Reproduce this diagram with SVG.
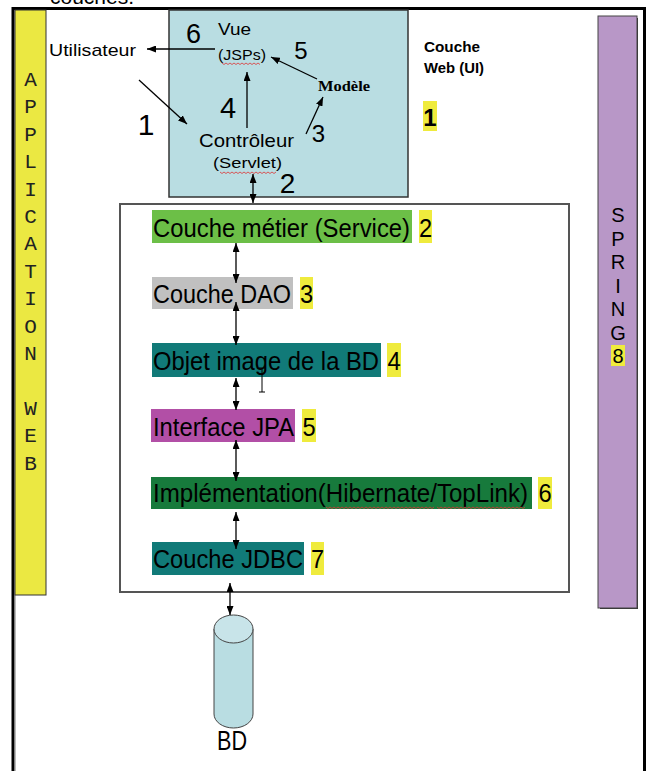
<svg xmlns="http://www.w3.org/2000/svg" width="649" height="771" viewBox="0 0 649 771">
<defs>
<marker id="ah" markerUnits="userSpaceOnUse" markerWidth="9" markerHeight="7" refX="9" refY="3.5" orient="auto-start-reverse"><path d="M0,0 L9,3.5 L0,7 z" fill="#000"/></marker>
<style>
.sans{font-family:"Liberation Sans",Arial,sans-serif;fill:#000}
.serif{font-family:"Liberation Serif","Times New Roman",serif;fill:#000}
.mono{font-family:"Liberation Mono","Courier New",monospace;fill:#222}
.ln{stroke:#000;stroke-width:1.3;fill:none}
.bar{font-family:"Liberation Sans",Arial,sans-serif;font-size:23.7px;fill:#000}
.hl{fill:#efeb3d}
.wavy{stroke:#d33;stroke-width:0.8;fill:none}
</style>
</defs>
<rect width="649" height="771" fill="#fff"/>
<text class="sans" x="50" y="4" font-size="21">couches.</text>
<g id="frame">
<path d="M13,771 V8.5 H644.5 V771" fill="none" stroke="#000" stroke-width="3"/>
<line x1="15.5" y1="10" x2="15.5" y2="771" stroke="#bbb" stroke-width="1"/>
</g>
<g id="application-web">
<rect x="15" y="10" width="31" height="585" fill="#ebe842" stroke="#333" stroke-width="1"/>
<g class="mono" font-size="21" text-anchor="middle">
<text x="30.5" y="86">A</text><text x="30.5" y="113">P</text><text x="30.5" y="141">P</text><text x="30.5" y="168">L</text><text x="30.5" y="196">I</text><text x="30.5" y="223">C</text><text x="30.5" y="250">A</text><text x="30.5" y="278">T</text><text x="30.5" y="305">I</text><text x="30.5" y="333">O</text><text x="30.5" y="360">N</text><text x="30.5" y="415">W</text><text x="30.5" y="442">E</text><text x="30.5" y="470">B</text>
</g>
</g>
<g id="spring">
<rect x="600" y="18" width="38" height="591" fill="#333"/>
<rect x="598" y="16" width="39" height="592" fill="#b897c7" stroke="#444" stroke-width="1"/>
<rect class="hl" x="611" y="345" width="14" height="21"/>
<g class="sans" font-size="20" text-anchor="middle">
<text x="618" y="222">S</text><text x="618" y="245.5">P</text><text x="618" y="269">R</text><text x="618" y="292.5">I</text><text x="618" y="316">N</text><text x="618" y="339.5">G</text><text x="618" y="363">8</text>
</g>
</g>
<g id="couche-web">
<rect x="169" y="10" width="239" height="187" fill="#b9dde2" stroke="#333" stroke-width="1.5"/>
<text class="sans" x="218" y="35" font-size="17" textLength="33" lengthAdjust="spacingAndGlyphs">Vue</text>
<text class="sans" x="218" y="60" font-size="15" textLength="48" lengthAdjust="spacingAndGlyphs">(JSPs)</text>
<path class="wavy" d="M222,63 l2,1.5 l2,-1.5 l2,1.5 l2,-1.5 l2,1.5 l2,-1.5 l2,1.5 l2,-1.5 l2,1.5 l2,-1.5 l2,1.5 l2,-1.5 l2,1.5 l2,-1.5 l2,1.5 l2,-1.5 l2,1.5 l2,-1.5 l2,1.5"/>
<text class="serif" x="318" y="91" font-size="15.5" font-weight="bold" textLength="52" lengthAdjust="spacingAndGlyphs">Modèle</text>
<text class="sans" x="199" y="147" font-size="18.5" textLength="95" lengthAdjust="spacingAndGlyphs">Contrôleur</text>
<text class="sans" x="213" y="168" font-size="15.5" textLength="69" lengthAdjust="spacingAndGlyphs">(Servlet)</text>
<path class="wavy" d="M220,172 l2,1.5 l2,-1.5 l2,1.5 l2,-1.5 l2,1.5 l2,-1.5 l2,1.5 l2,-1.5 l2,1.5 l2,-1.5 l2,1.5 l2,-1.5 l2,1.5 l2,-1.5 l2,1.5 l2,-1.5 l2,1.5 l2,-1.5 l2,1.5 l2,-1.5 l2,1.5 l2,-1.5 l2,1.5 l2,-1.5 l2,1.5 l2,-1.5 l2,1.5 l2,-1.5"/>
<g class="sans" text-anchor="middle">
<text x="193.5" y="43" font-size="27">6</text>
<text x="301" y="59" font-size="24">5</text>
<text x="228" y="118" font-size="29">4</text>
<text x="318.5" y="142" font-size="24">3</text>
<text x="287.5" y="193" font-size="28">2</text>
</g>
</g>
<g id="utilisateur">
<text class="sans" x="49" y="56" font-size="17" textLength="87" lengthAdjust="spacingAndGlyphs">Utilisateur</text>
<text class="sans" x="146" y="135" font-size="30" text-anchor="middle">1</text>
</g>
<g id="label-web">
<text class="sans" x="424" y="52" font-size="15" font-weight="bold" textLength="56" lengthAdjust="spacingAndGlyphs">Couche</text>
<text class="sans" x="424" y="73" font-size="15" font-weight="bold" textLength="60" lengthAdjust="spacingAndGlyphs">Web (UI)</text>
<rect class="hl" x="423" y="101" width="14" height="30"/>
<text class="sans" x="430" y="126" font-size="24" font-weight="bold" text-anchor="middle">1</text>
</g>
<g id="couche-metier-box">
<rect x="120" y="204" width="449" height="388" fill="#fff" stroke="#555" stroke-width="2"/>
</g>
<g id="service">
<rect x="152" y="210" width="260" height="33" fill="#6cbf47"/>
<text class="bar" transform="translate(153,237) scale(1,1.12)" textLength="257" lengthAdjust="spacingAndGlyphs">Couche métier (Service)</text>
<rect class="hl" x="419" y="210" width="13" height="33"/>
<text class="bar" transform="translate(425.5,237) scale(1,1.12)" text-anchor="middle">2</text>
</g>
<g id="dao">
<rect x="152" y="277" width="141" height="32" fill="#c0c0c0"/>
<text class="bar" transform="translate(153,303) scale(1,1.12)" textLength="138" lengthAdjust="spacingAndGlyphs">Couche DAO</text>
<rect class="hl" x="300" y="277" width="13" height="32"/>
<text class="bar" transform="translate(306.5,303) scale(1,1.12)" text-anchor="middle">3</text>
</g>
<g id="objet">
<rect x="152" y="343" width="229" height="34" fill="#117a78"/>
<text class="bar" transform="translate(153,370) scale(1,1.12)" textLength="226" lengthAdjust="spacingAndGlyphs">Objet image de la BD</text>
<rect class="hl" x="387" y="343" width="14" height="34"/>
<text class="bar" transform="translate(394,370) scale(1,1.12)" text-anchor="middle">4</text>
</g>
<g id="jpa">
<rect x="151" y="409" width="144" height="33" fill="#b24fa6"/>
<text class="bar" transform="translate(153,436) scale(1,1.12)" textLength="141" lengthAdjust="spacingAndGlyphs">Interface JPA</text>
<rect class="hl" x="302" y="409" width="14" height="33"/>
<text class="bar" transform="translate(309,436) scale(1,1.12)" text-anchor="middle">5</text>
</g>
<g id="implementation">
<rect x="151" y="477" width="381" height="32" fill="#177a3c"/>
<text class="bar" transform="translate(153,502) scale(1,1.12)" textLength="375" lengthAdjust="spacingAndGlyphs">Implémentation(Hibernate/TopLink)</text>
<path class="wavy" d="M326,507 l2,1.5 l2,-1.5 l2,1.5 l2,-1.5 l2,1.5 l2,-1.5 l2,1.5 l2,-1.5 l2,1.5 l2,-1.5 l2,1.5 l2,-1.5 l2,1.5 l2,-1.5 l2,1.5 l2,-1.5 l2,1.5 l2,-1.5 l2,1.5 l2,-1.5 l2,1.5 l2,-1.5 l2,1.5 l2,-1.5 l2,1.5 l2,-1.5 l2,1.5 l2,-1.5 l2,1.5 l2,-1.5 l2,1.5 l2,-1.5 l2,1.5 l2,-1.5 l2,1.5 l2,-1.5 l2,1.5 l2,-1.5 l2,1.5 l2,-1.5 l2,1.5 l2,-1.5 l2,1.5 l2,-1.5 l2,1.5 l2,-1.5 l2,1.5 l2,-1.5 l2,1.5 l2,-1.5 l2,1.5 l2,-1.5 l2,1.5 l2,-1.5 M437,507 l2,1.5 l2,-1.5 l2,1.5 l2,-1.5 l2,1.5 l2,-1.5 l2,1.5 l2,-1.5 l2,1.5 l2,-1.5 l2,1.5 l2,-1.5 l2,1.5 l2,-1.5 l2,1.5 l2,-1.5 l2,1.5 l2,-1.5 l2,1.5 l2,-1.5 l2,1.5 l2,-1.5 l2,1.5 l2,-1.5 l2,1.5 l2,-1.5 l2,1.5 l2,-1.5 l2,1.5 l2,-1.5 l2,1.5 l2,-1.5 l2,1.5 l2,-1.5 l2,1.5 l2,-1.5 l2,1.5 l2,-1.5 l2,1.5 l2,-1.5 l2,1.5 l2,-1.5 l2,1.5 l2,-1.5"/>
<rect class="hl" x="538" y="477" width="14" height="32"/>
<text class="bar" transform="translate(545,502) scale(1,1.12)" text-anchor="middle">6</text>
</g>
<g id="jdbc">
<rect x="152" y="542" width="152" height="33" fill="#117a78"/>
<text class="bar" transform="translate(153,568) scale(1,1.12)" textLength="150" lengthAdjust="spacingAndGlyphs">Couche JDBC</text>
<rect class="hl" x="311" y="542" width="13" height="33"/>
<text class="bar" transform="translate(317.5,568) scale(1,1.12)" text-anchor="middle">7</text>
</g>
<g id="bd">
<path d="M214,629 V714 A19.5,14 0 0 0 253,714 V629 z" fill="#b9dde2" stroke="#444" stroke-width="1"/>
<ellipse cx="233.5" cy="629" rx="19.5" ry="14" fill="#c8e4e9" stroke="#444" stroke-width="1"/>
<text class="sans" x="217" y="750" font-size="28" textLength="30" lengthAdjust="spacingAndGlyphs">BD</text>
</g>
<g id="cursor">
<path d="M259,368 h6 M262,368 V392 M259,392 h6" stroke="#000" stroke-width="1" fill="none"/>
</g>
<g id="connectors">
<line class="ln" x1="215" y1="49" x2="147" y2="49" marker-end="url(#ah)"/>
<line class="ln" x1="139" y1="80" x2="187" y2="124" marker-end="url(#ah)"/>
<line class="ln" x1="247" y1="128" x2="247" y2="72" marker-end="url(#ah)"/>
<line class="ln" x1="306" y1="134" x2="323" y2="97" marker-end="url(#ah)"/>
<line class="ln" x1="317" y1="79" x2="271" y2="57" marker-end="url(#ah)"/>
<line class="ln" x1="253" y1="174" x2="253" y2="203" marker-start="url(#ah)" marker-end="url(#ah)"/>
<line class="ln" x1="236" y1="243" x2="236" y2="283" marker-start="url(#ah)" marker-end="url(#ah)"/>
<line class="ln" x1="236" y1="302" x2="236" y2="345" marker-start="url(#ah)" marker-end="url(#ah)"/>
<line class="ln" x1="236" y1="378" x2="236" y2="410" marker-start="url(#ah)" marker-end="url(#ah)"/>
<line class="ln" x1="236" y1="440" x2="236" y2="481" marker-start="url(#ah)" marker-end="url(#ah)"/>
<line class="ln" x1="236" y1="512" x2="236" y2="549" marker-start="url(#ah)" marker-end="url(#ah)"/>
<line class="ln" x1="230" y1="583" x2="230" y2="615" marker-start="url(#ah)" marker-end="url(#ah)"/>
</g>
</svg>
